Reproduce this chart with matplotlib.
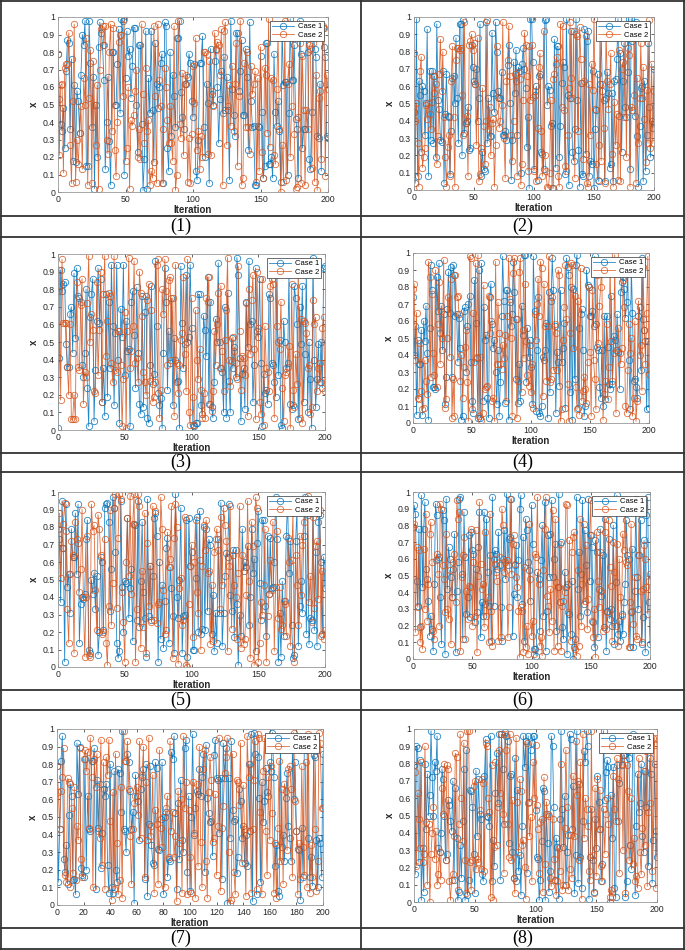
import numpy as np
import matplotlib
matplotlib.use("Agg")
import matplotlib.pyplot as plt
from matplotlib.lines import Line2D

# ---------------- data (values in percent, read/estimated from the picture) -------------
p1_case1 = [79,53,39,35,48,25,69,87,85,36,76,18,61,17,58,52,34,67,90,84,
            98,15,15,98,74,37,66,2,50,20,83,97,91,84,64,13,40,66,29,4,
            80,80,50,50,73,93,45,99,98,10,65,92,78,82,54,72,94,94,50,23,
            84,84,39,1,19,92,2,65,45,92,47,17,85,62,48,60,74,79,5,97,
            95,25,12,80,32,67,55,37,88,88,98,57,43,36,62,62,66,79,74,52,
            43,73,12,7,30,74,74,89,37,20,62,51,5,82,56,50,75,82,60,28,
            53,69,45,77,47,66,47,7,98,59,44,32,91,91,58,69,87,44,44,82,
            66,24,97,52,37,38,4,4,38,37,78,46,8,15,85,85,16,16,20,8,
            79,46,38,52,35,6,96,61,63,63,10,45,99,64,64,84,42,36,8,98,
            79,25,36,36,90,80,19,13,46,96,82,77,32,31,62,12,94,83,77,32,31]
p1_case2 = [79,21,61,62,11,71,73,73,91,27,5,52,96,6,30,16,34,49,13,65,
            50,88,4,54,81,5,75,50,27,61,2,70,93,95,84,95,30,22,80,96,
            35,94,24,9,40,86,90,90,55,99,18,25,60,2,41,38,44,58,70,20,
            36,19,96,56,28,71,35,41,4,12,8,95,55,5,96,64,49,5,36,71,
            60,41,28,49,28,18,95,1,10,98,39,31,68,21,62,67,6,31,5,33,
            72,51,88,24,35,13,32,20,80,80,79,22,75,21,58,49,91,81,86,84,
            67,93,4,92,97,27,49,61,38,72,35,62,85,15,55,98,4,8,74,37,
            80,37,22,72,56,62,69,6,65,12,83,23,8,71,67,34,99,26,65,64,
            21,16,59,90,36,0,27,6,98,7,62,73,20,49,93,33,2,3,43,85,
            5,78,47,4,47,36,84,82,14,85,6,67,1,54,58,19,95,94,9,67,59]

p2_case1 = [45,4,99,8,63,55,22,60,57,32,50,93,8,69,29,69,27,66,19,96,
            52,47,29,28,69,4,44,67,43,42,9,34,65,66,50,88,53,27,96,96,
            20,98,33,39,40,48,23,24,84,71,63,61,70,40,53,96,8,22,12,11,
            97,27,53,31,31,91,56,45,97,80,57,53,53,68,32,32,34,29,72,84,
            50,6,29,74,56,81,32,71,69,10,73,82,70,59,25,42,1,99,99,74,
            12,55,60,6,66,67,22,21,12,98,99,49,60,58,37,39,1,87,13,83,
            83,19,37,62,74,71,9,99,55,3,53,92,22,17,35,99,52,23,2,62,
            9,8,93,21,86,92,8,17,15,69,1,35,46,67,5,61,90,57,52,5,
            53,68,56,13,15,56,5,63,64,76,99,43,79,22,63,85,48,42,68,99,
            12,99,86,96,43,97,31,2,37,59,60,5,63,11,32,85,48,19,40,36,70]
p2_case2 = [79,40,50,27,2,69,77,13,19,24,49,41,50,44,35,51,66,56,61,15,
            31,67,87,57,80,42,19,2,25,32,8,63,83,42,2,75,82,82,81,82,
            55,32,97,39,43,8,84,86,90,81,85,61,26,88,5,9,24,59,37,15,
            40,98,35,48,20,39,41,2,26,83,54,36,40,49,97,30,7,63,75,95,
            66,32,17,40,67,63,8,68,64,3,15,52,91,84,66,11,83,52,84,54,
            11,57,5,36,71,79,34,8,92,20,11,2,1,10,52,1,64,67,73,77,
            8,2,96,48,95,46,14,11,32,59,97,65,53,92,7,90,89,34,94,76,
            62,18,63,89,4,2,61,32,73,58,99,47,15,6,26,92,17,61,36,4,
            94,63,47,61,79,21,2,51,26,44,6,81,5,70,74,42,93,19,82,78,
            2,48,46,55,89,4,65,27,53,85,53,71,41,16,58,27,98,24,73,27,57]

p3_case1 = [1,41,91,79,83,84,49,36,36,66,70,44,89,52,92,76,75,73,37,30,
            44,80,24,2,64,77,86,5,34,62,92,61,86,16,35,8,77,19,73,35,
            94,59,14,55,94,40,4,69,53,94,31,62,45,46,2,73,79,54,24,81,
            44,15,9,76,13,67,76,7,4,37,82,26,32,96,59,21,14,18,1,44,
            92,73,23,56,38,75,14,52,40,27,28,1,93,61,35,49,88,50,53,94,
            58,3,2,4,4,77,77,14,9,65,57,42,87,15,73,13,7,27,63,50,
            95,50,35,33,10,70,7,78,28,10,52,35,47,30,98,88,41,5,32,35,
            12,73,47,96,60,62,16,37,92,56,53,86,38,2,32,21,23,15,77,75,
            38,37,27,19,92,31,51,3,1,62,50,35,38,89,15,12,14,82,75,60,
            6,70,49,82,16,43,90,10,50,29,1,98,40,13,29,49,27,50,24,92,93]
p3_case2 = [79,91,17,97,61,61,61,36,20,60,6,6,20,6,84,36,34,71,86,15,
            33,30,72,99,50,66,57,22,21,84,31,57,90,16,77,99,42,62,78,76,
            38,27,99,34,33,56,56,37,2,29,67,1,56,98,35,45,59,96,38,41,
            27,90,78,65,33,27,20,74,83,28,68,16,19,27,94,97,7,23,80,66,
            97,79,37,85,87,40,75,8,94,38,21,37,51,55,87,43,22,97,10,3,
            75,19,3,68,40,29,46,23,7,21,7,75,73,87,15,11,22,56,37,60,
            78,35,82,45,22,51,68,98,40,25,39,53,45,38,29,93,56,23,42,41,
            31,72,8,80,43,74,88,46,6,90,58,16,9,86,3,59,35,33,22,82,
            86,83,7,88,59,50,46,73,24,5,31,33,36,48,1,83,23,13,43,26,
            95,7,63,4,62,61,55,35,37,9,13,74,60,64,22,35,38,27,58,64,22]

p4_case1 = [74,40,57,5,49,35,35,55,5,60,48,69,41,2,56,93,78,21,21,20,
            86,66,94,53,69,43,64,11,27,67,89,65,92,27,93,87,63,64,36,62,
            44,2,4,66,68,30,57,70,75,36,13,6,84,59,38,3,90,3,94,13,
            68,49,52,15,3,74,82,58,44,49,30,11,43,4,24,63,98,72,12,78,
            78,2,71,57,64,95,77,26,61,12,35,13,69,52,99,99,24,56,39,49,
            33,11,98,66,7,43,74,6,4,10,39,37,43,59,3,77,18,72,97,78,
            57,6,42,36,22,78,36,44,59,9,97,92,87,18,80,2,79,26,93,99,
            9,56,64,67,43,4,10,90,81,80,63,63,66,57,98,58,45,43,21,15,
            43,10,63,14,63,45,23,20,75,23,51,49,43,64,42,20,77,83,86,79,
            62,71,90,37,8,92,65,25,26,21,15,63,68,31,97,61,55,48,8,48,9]
p4_case2 = [79,82,37,65,15,14,47,19,8,9,37,25,17,95,86,27,76,41,28,90,
            21,58,83,35,66,50,96,9,14,50,74,39,85,3,26,4,87,74,75,64,
            25,40,15,33,45,55,24,1,98,97,8,65,36,94,39,99,4,39,2,6,
            81,20,21,22,75,53,60,13,15,1,95,35,71,53,35,32,46,38,52,13,
            63,97,73,50,4,88,97,61,3,25,89,97,18,55,38,82,48,28,22,46,
            18,35,9,64,49,70,85,63,95,91,16,82,57,25,57,98,24,26,74,31,
            58,53,31,90,87,1,8,49,68,93,61,23,1,53,94,93,44,75,21,8,
            72,5,91,13,19,27,20,12,36,80,42,4,78,37,26,8,87,47,69,80,
            95,2,17,25,58,14,33,95,48,25,41,99,6,43,56,41,35,44,84,68,
            10,6,31,58,41,50,4,15,60,1,13,72,40,46,19,92,55,35,65,98,29]

p5_case1 = [79,73,37,95,68,3,93,46,53,31,79,63,63,88,53,93,14,36,40,39,
            42,73,84,10,8,50,42,54,33,52,7,20,63,60,21,91,93,94,83,32,
            56,97,91,66,14,5,9,95,46,20,49,48,85,28,45,56,15,82,81,27,
            95,23,49,83,43,28,6,96,29,58,27,52,85,88,75,3,60,16,47,11,
            38,68,74,14,57,45,29,8,99,40,28,50,91,8,29,30,84,6,85,58,
            66,10,10,51,86,20,89,19,22,80,21,79,32,73,70,19,41,9,31,14,
            73,31,94,12,31,52,65,63,93,41,32,67,17,67,36,1,30,18,79,55,
            60,57,69,24,40,79,54,62,9,71,89,48,27,84,84,35,18,75,42,74,
            45,46,60,97,73,3,31,6,49,18,38,75,95,54,72,24,5,7,72,90,
            12,35,49,31,75,97,19,87,13,28,27,94,21,66,12,83,87,60,19,63,45]
p5_case2 = [79,88,51,68,82,94,78,33,14,53,72,64,8,83,73,71,43,56,90,40,
            6,40,75,7,6,93,78,81,44,21,87,79,64,19,20,73,14,1,35,90,
            24,48,91,99,34,74,99,96,43,26,3,60,85,52,98,42,82,99,3,33,
            99,92,11,55,23,88,8,71,35,58,26,92,27,89,25,36,37,97,79,44,
            19,21,77,57,62,92,5,74,93,80,2,45,51,24,27,86,1,0,36,58,
            70,17,60,84,43,31,61,10,58,81,67,84,54,55,13,47,15,66,73,79,
            67,33,86,47,91,81,72,9,58,92,22,64,47,40,16,54,92,11,64,13,
            16,41,95,49,5,83,69,1,97,91,3,14,37,30,47,79,3,29,42,61,
            44,83,9,46,78,28,46,22,24,38,36,18,74,60,12,61,88,3,64,47,
            24,75,41,70,83,92,95,98,37,52,26,86,34,69,72,39,90,18,55,16,21]

p6_case1 = [79,92,87,47,32,78,19,98,43,78,94,54,48,35,14,26,18,5,45,93,
            86,60,61,37,9,89,83,3,96,42,67,60,49,37,54,75,4,41,58,96,
            97,51,12,88,61,27,37,74,25,76,65,63,22,54,28,67,88,13,34,26,
            88,33,84,52,32,62,11,97,32,65,63,54,76,56,31,11,60,77,48,99,
            56,72,73,96,14,39,56,68,37,59,90,98,33,73,11,84,77,58,53,35,
            92,69,6,6,2,52,48,17,59,80,26,94,5,29,74,49,75,95,49,60,
            69,17,43,99,34,70,19,12,52,43,3,45,27,15,47,0,7,12,97,42,
            64,26,51,95,33,77,56,28,96,47,74,67,22,7,71,64,13,42,78,38,
            62,19,84,5,29,72,24,30,20,80,9,46,98,15,23,11,27,15,34,45,
            83,62,60,7,28,66,7,41,96,49,30,62,83,9,25,71,4,86,97,34,9]
p6_case2 = [79,81,16,67,31,65,10,20,6,66,30,87,23,45,75,82,58,17,12,59,
            63,51,20,93,90,56,48,28,75,30,24,53,9,37,58,63,34,95,84,88,
            5,49,62,73,12,41,24,44,43,78,20,58,26,77,4,50,94,57,42,45,
            19,76,26,37,10,87,29,8,60,57,52,47,11,61,13,90,80,52,58,59,
            13,31,96,51,69,74,57,49,43,29,1,31,29,4,55,7,20,3,81,48,
            14,23,3,63,61,97,45,8,13,2,53,78,97,38,32,16,42,23,89,5,
            84,46,8,43,69,5,32,35,40,93,92,28,71,11,64,73,76,6,2,53,
            8,84,20,45,81,35,68,18,36,74,95,23,13,30,1,76,47,31,64,41,
            17,91,76,18,28,83,55,44,11,70,52,20,69,8,60,37,26,75,65,93,
            58,56,7,34,81,29,21,49,14,12,62,89,41,10,42,68,60,43,27,47,51]

p7_case1 = [79,13,43,82,96,26,19,34,12,51,69,62,14,15,6,92,63,90,21,17,
            16,83,20,62,43,42,82,82,89,9,71,44,69,21,41,66,62,69,23,7,
            80,10,7,76,20,13,77,75,53,99,43,42,30,86,81,65,43,53,1,74,
            62,59,37,66,73,77,15,80,5,46,79,34,24,23,81,78,32,31,49,81,
            6,50,53,16,26,25,87,83,96,52,9,58,26,71,37,30,89,94,19,62,
            8,50,97,40,55,65,63,77,62,73,86,19,91,61,52,47,48,28,85,94,
            72,71,41,72,15,92,72,89,1,72,38,93,54,48,49,18,27,66,59,38,
            45,24,40,22,80,42,97,2,98,86,6,84,61,13,70,47,59,78,64,62,
            81,76,98,73,22,34,8,5,94,33,40,25,61,75,45,38,25,88,60,81,
            42,32,31,3,44,16,94,88,92,38,16,27,11,85,84,37,10,38,35,16,86]
p7_case2 = [79,64,43,65,73,89,17,13,72,70,10,55,18,67,14,45,37,89,26,16,
            83,88,76,87,44,95,73,10,83,67,86,42,38,94,23,81,9,84,74,94,
            48,3,64,9,86,35,6,14,67,4,99,82,82,93,66,39,12,43,58,62,
            67,51,93,38,74,90,16,70,37,95,39,45,74,7,54,46,12,88,44,33,
            50,10,55,62,27,93,42,53,27,39,2,65,35,60,7,96,55,70,6,54,
            27,7,70,41,4,69,22,90,36,10,77,88,25,4,64,84,71,36,38,63,
            17,45,95,8,44,56,75,84,95,30,1,3,86,19,6,71,70,57,92,24,
            68,43,5,96,73,80,7,43,71,93,9,97,95,53,6,76,95,42,17,73,
            37,79,52,7,35,4,44,82,25,66,12,69,65,31,77,79,66,16,98,59,
            42,6,35,15,79,33,17,81,10,97,7,34,16,90,43,8,25,98,92,55,55]

p8_case1 = [79,16,90,89,23,82,1,31,6,80,42,74,50,62,99,72,50,81,76,96,
            31,29,40,77,71,50,24,28,59,56,47,41,70,13,66,37,1,6,33,14,
            47,77,1,88,4,13,65,64,55,28,5,76,38,71,51,48,16,12,73,94,
            50,49,44,96,12,36,21,63,86,57,97,13,97,77,45,98,96,93,34,73,
            74,29,14,83,12,65,18,27,4,44,96,78,93,17,96,58,88,92,96,96,
            53,26,25,1,13,35,66,64,1,51,34,6,18,96,90,55,13,37,32,2,
            48,99,54,32,61,10,29,39,97,94,42,67,5,27,99,11,68,26,8,47,
            87,81,99,90,2,26,54,24,6,48,31,73,58,42,12,22,99,59,75,82,
            78,0,62,37,78,8,3,79,47,69,88,79,85,85,3,12,87,83,33,19,
            97,92,4,44,74,52,57,80,38,29,76,55,96,21,83,74,11,36,80,41,26]
p8_case2 = [79,75,21,63,48,31,81,23,28,90,46,10,45,0,28,40,55,25,41,10,
            16,29,13,66,51,80,24,79,77,12,1,13,16,38,86,84,7,45,97,60,
            35,92,24,5,99,99,23,7,24,67,70,19,25,23,53,19,71,69,18,92,
            90,60,52,3,79,1,32,81,33,55,88,63,97,51,17,97,88,45,26,97,
            24,59,14,5,95,58,29,71,64,33,36,20,2,92,57,38,49,12,81,60,
            91,56,42,17,46,48,6,72,22,58,51,50,14,9,48,25,13,4,12,31,
            18,80,7,10,43,88,55,7,19,39,14,73,38,93,62,70,24,81,2,97,
            37,60,54,44,18,13,99,27,5,66,15,71,42,65,21,12,54,28,51,60,
            45,3,7,3,73,54,47,83,71,17,91,80,30,85,5,79,64,24,33,60,
            22,37,12,15,8,83,29,16,43,76,33,87,9,52,57,92,18,95,91,8,95]

panel_labels = ["(1)", "(2)", "(3)", "(4)", "(5)", "(6)", "(7)", "(8)"]
series_names = ["Case 1", "Case 2"]
case1_all = [p1_case1, p2_case1, p3_case1, p4_case1, p5_case1, p6_case1, p7_case1, p8_case1]
case2_all = [p1_case2, p2_case2, p3_case2, p4_case2, p5_case2, p6_case2, p7_case2, p8_case2]
xticks_std = [0, 50, 100, 150, 200]
xticks_p7 = [0, 20, 40, 60, 80, 100, 120, 140, 160, 180, 200]
yticks = [0, 0.1, 0.2, 0.3, 0.4, 0.5, 0.6, 0.7, 0.8, 0.9, 1]
ytick_labels = ["0", "0.1", "0.2", "0.3", "0.4", "0.5", "0.6", "0.7", "0.8", "0.9", "1"]

# ---------------- layout ----------------
W, H = 685, 950
fig = plt.figure(figsize=(W / 100, H / 100), dpi=100)
fig.patch.set_facecolor("white")

# axes boxes in pixels: (left, top, right, bottom)
boxes = [(58, 17, 328, 192), (414, 17, 654, 190),
         (58, 254, 325, 430), (413, 253, 649, 423),
         (58, 492, 325, 667), (413, 492, 650, 659),
         (57, 729, 323, 905), (414, 729, 657, 902)]

C1 = "#0072BD"
C2 = "#D95319"
SANS = ["Liberation Sans", "DejaVu Sans"]

for i, (l, t, r, b) in enumerate(boxes):
    ax = fig.add_axes([l / W, 1 - b / H, (r - l) / W, (b - t) / H])
    y1 = np.array(case1_all[i]) / 100.0
    y2 = np.array(case2_all[i]) / 100.0
    ax.plot(np.arange(len(y1)), y1, color=C1, lw=0.6, marker="o", ms=4.6,
            mfc="none", mec=C1, mew=0.6, alpha=0.85, label=series_names[0])
    ax.plot(np.arange(len(y2)), y2, color=C2, lw=0.6, marker="o", ms=4.6,
            mfc="none", mec=C2, mew=0.6, alpha=0.85, label=series_names[1])
    ax.set_xlim(0, 200)
    ax.set_ylim(0, 1)
    ax.set_xticks(xticks_p7 if i == 6 else xticks_std)
    ax.set_yticks(yticks)
    ax.set_yticklabels(ytick_labels)
    ax.tick_params(direction="in", length=2, width=0.5, labelsize=6.3,
                   colors="#262626", pad=2, top=True, right=True)
    for tl in ax.get_xticklabels() + ax.get_yticklabels():
        tl.set_family(SANS)
    for s in ax.spines.values():
        s.set_color("#999999")
        s.set_linewidth(0.6)
    ax.set_xlabel("Iteration", fontsize=7, fontweight="bold", family=SANS,
                  color="#262626", labelpad=1)
    ax.set_ylabel("x", fontsize=7, fontweight="bold", family=SANS,
                  color="#262626", labelpad=3)
    leg = ax.legend(loc="upper right", prop={"family": SANS, "size": 5.5},
                    handlelength=2.8, handletextpad=0.5, borderpad=0.3,
                    labelspacing=0.1, fancybox=False, framealpha=1,
                    edgecolor="#333333", borderaxespad=0.5, numpoints=1)
    leg.get_frame().set_linewidth(0.5)

# ---------------- table grid ----------------
lc = "#333333"
hlines = [1, 216, 237, 453, 472, 690, 710, 928, 949]
for y in hlines:
    fig.add_artist(Line2D([0, 1], [1 - y / H, 1 - y / H], color=lc, lw=1.3,
                          transform=fig.transFigure))
for x in [1, 361, 684]:
    fig.add_artist(Line2D([x / W, x / W], [0, 1], color=lc, lw=1.3,
                          transform=fig.transFigure))

label_rows = [(216 + 237) / 2, (453 + 472) / 2, (690 + 710) / 2, (928 + 949) / 2]
col_centers = [181, 523]
for i, lab in enumerate(panel_labels):
    row, col = divmod(i, 2)
    fig.text(col_centers[col] / W, 1 - label_rows[row] / H, lab,
             ha="center", va="center", fontsize=13,
             family=["Liberation Serif", "DejaVu Serif"], color="black")

fig.savefig("out.png", dpi=100, facecolor="white")
